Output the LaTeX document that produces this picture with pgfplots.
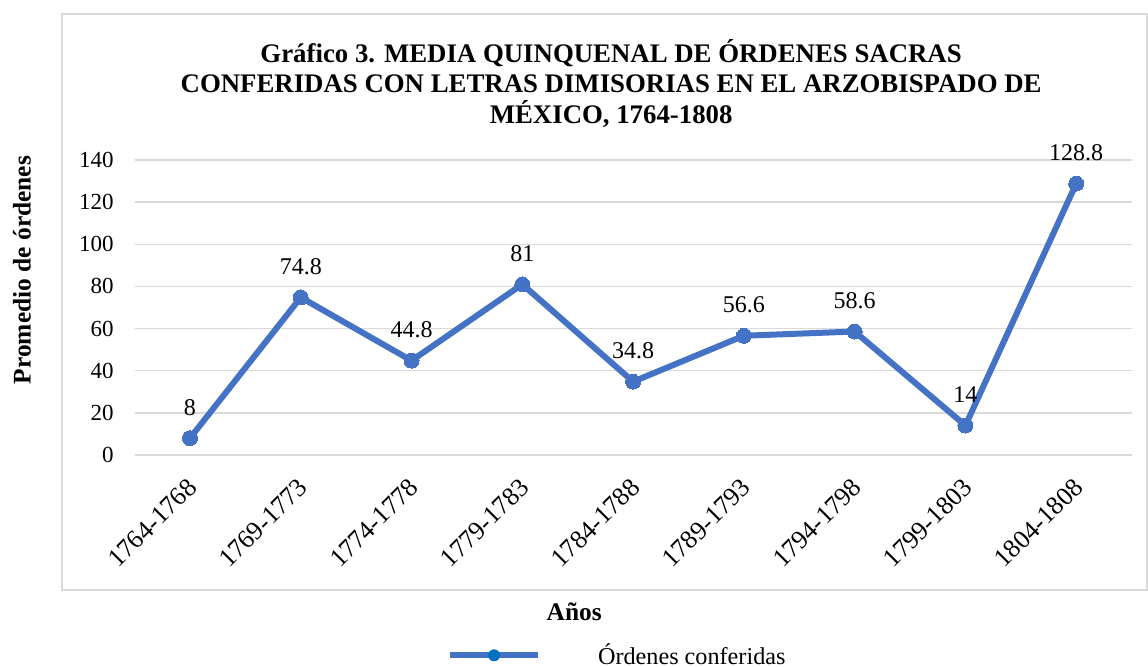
\documentclass[border=0pt]{standalone}
\usepackage{pgfplots}
\pgfplotsset{compat=1.18}
\usepackage{fontspec}
\setmainfont{Liberation Serif}
\definecolor{serieblue}{HTML}{4472C4}
\definecolor{legdot}{HTML}{0070C0}
\definecolor{gridgray}{HTML}{D9D9D9}
\begin{document}
\begin{tikzpicture}
\path[use as bounding box] (-67.3pt,-105.5pt) rectangle (506.7pt,227.5pt);
\begin{axis}[
  at={(0pt,0pt)}, anchor=south west,
  scale only axis,
  width=498.5pt, height=147.5pt,
  xmin=-0.5, xmax=8.5, ymin=0, ymax=140,
  xtick={0,...,8},
  xticklabels={1764-1768,1769-1773,1774-1778,1779-1783,1784-1788,1789-1793,1794-1798,1799-1803,1804-1808},
  ytick={0,20,...,140},
  axis line style={draw=none},
  major tick length=0pt,
  ymajorgrids, grid style={gridgray, line width=0.75pt},
  /pgf/number format/assume math mode=true,
  yticklabel style={xshift=-7pt, font=\fontsize{11.5}{13}\selectfont, black},
  xticklabel style={anchor=north east, xshift=-2pt, yshift=-6pt, rotate=45, font=\fontsize{13}{14}\selectfont, black},
  title={Gráfico 3. MEDIA QUINQUENAL DE ÓRDENES SACRAS\\CONFERIDAS CON LETRAS DIMISORIAS EN EL ARZOBISPADO DE\\MÉXICO, 1764-1808},
  title style={at={(0.478,1.22)}, anchor=center, align=center, font=\fontsize{13.4}{15.25}\bfseries},
  ylabel={Promedio de órdenes},
  ylabel style={at={(-0.113,0.627)}, anchor=center, rotate=0, font=\fontsize{12.7}{14}\bfseries},
  xlabel={Años},
  xlabel style={at={(0.441,-0.532)}, anchor=center, font=\fontsize{12.7}{14}\bfseries},
  legend style={at={(0.313,-0.679)}, anchor=west, draw=none, fill=none, inner sep=0pt, font=\fontsize{12.1}{14}\selectfont},
  legend image code/.code={
    \draw[serieblue, line width=3pt, mark=none] (0pt,0pt) -- (44pt,0pt);
    \fill[legdot, draw=none] (22pt,0pt) circle (3pt);
    \path[draw=none, fill=none] (0pt,0pt) -- (72pt,0pt);
  },
  clip=false,
]
\addplot[serieblue, line width=3pt, mark=*, mark size=3.75pt,
  mark options={fill=serieblue, draw=serieblue, line width=0pt},
  point meta=explicit symbolic,
  nodes near coords,
  every node near coord/.style={anchor=center, yshift=15.5pt, font=\fontsize{12}{14}\selectfont, text=black}]
coordinates {
  (0,8) [8]
  (1,74.8) [74.8]
  (2,44.8) [44.8]
  (3,81) [81]
  (4,34.8) [34.8]
  (5,56.6) [56.6]
  (6,58.6) [58.6]
  (7,14) [14]
  (8,128.8) [128.8]
};
\addlegendentry{Órdenes conferidas}
\end{axis}
\draw[gridgray, line width=0.75pt] (-36.3pt,-67.5pt) rectangle (506.2pt,220.5pt);
\end{tikzpicture}
\end{document}
